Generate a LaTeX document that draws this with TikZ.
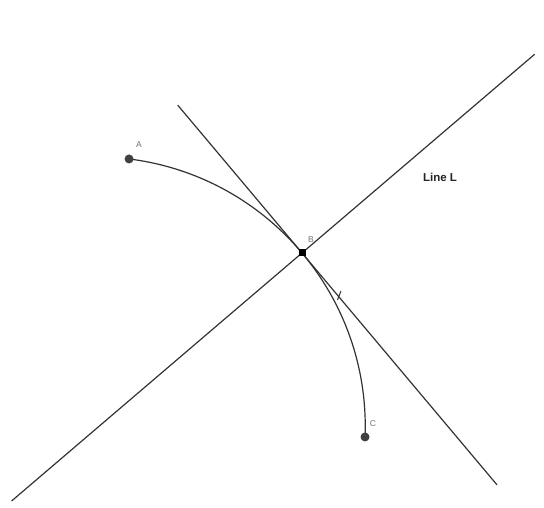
\documentclass[tikz,border=0pt]{standalone}
\usepackage{fontspec}
\setmainfont{Liberation Sans}
\usetikzlibrary{calc}
\begin{document}
\begin{tikzpicture}[x=1pt,y=1pt,
  curve/.style={draw=black!80, line width=1.2pt},
  dotpt/.style={circle, fill=black!75, inner sep=0pt, minimum size=9pt},
  lbl/.style={font=\fontsize{8.5}{9}\selectfont, text=black!55, inner sep=0pt}]
\useasboundingbox[fill=white] (0,0) rectangle (544,508);
\coordinate (O) at (95.75,81.6);
\coordinate (A) at ($(O)+(82.9:269.5)$);
\coordinate (B) at ($(O)+(40.06:269.5)$);
\coordinate (C) at ($(O)+(-2.25:269.5)$);
% line L (normal line through B)
\coordinate (L1) at ($(B)+(220.5:382)$);
\coordinate (L2) at ($(B)+(40.5:306)$);
\draw[curve] (L1) -- (L2);
% tangent line at B
\coordinate (T1) at ($(B)+(130.06:193)$);
\coordinate (T2) at ($(B)+(-49.94:303)$);
\draw[curve] (T1) -- (T2);
% arc A-B-C
\draw[curve] (A) arc[start angle=82.9, end angle=-2.25, radius=269.5];
% small tick
\coordinate (V1) at (337.5,208);
\coordinate (V2) at (341,217);
\draw[curve, line width=1pt] (V1) -- (V2);
% points
\node[dotpt] (pA) at (A) {};
\node[dotpt, fill=black, rectangle, minimum size=7pt] (pB) at (B) {};
\node[dotpt] (pC) at (C) {};
\node[lbl] (tA) at (139,363) {A};
\node[lbl] (tB) at (311,268) {B};
\node[lbl] (tC) at (373,84) {C};
\node[font=\fontsize{11.5}{12}\selectfont, text=black!85, inner sep=0pt] (tL) at (440,331) {\textbf{Line L}};
\end{tikzpicture}
\end{document}
